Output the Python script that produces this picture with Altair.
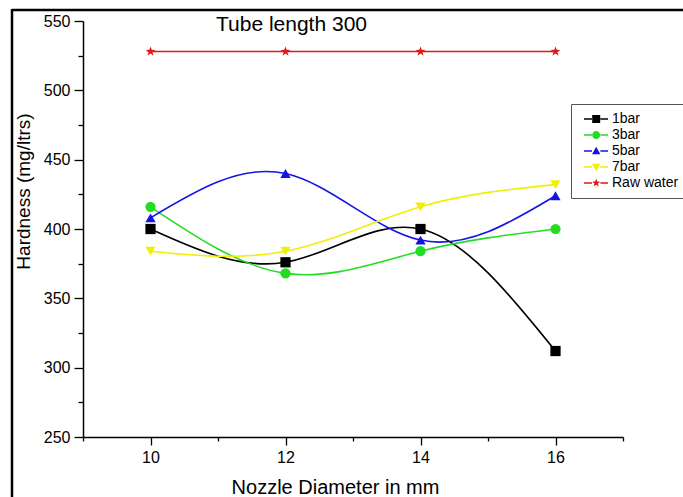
import altair as alt
import pandas as pd

# ---- data ----
nozzle = [10, 12, 14, 16]
series_names = ["1bar", "3bar", "5bar", "7bar", "Raw water"]
bar1 = [400, 376, 400, 312]
bar3 = [416, 368, 384, 400]
bar5 = [408, 440, 392, 424]
bar7 = [384, 384, 416, 432]
raw_water = [528, 528, 528, 528]

x_major = [10, 12, 14, 16]
x_minor = [9, 11, 13, 15, 17]
y_major = [250, 300, 350, 400, 450, 500, 550]
y_minor = [275, 325, 375, 425, 475, 525]

colors = ["#000000", "#22dd22", "#1414e6", "#f2ef00", "#e01818"]

rows = []
for name, vals in zip(series_names, [bar1, bar3, bar5, bar7, raw_water]):
    for xv, yv in zip(nozzle, vals):
        rows.append({"nozzle": xv, "hardness": yv, "series": name})
df = pd.DataFrame(rows)

FONT = "Liberation Sans"

star = ("M0,-1L0.2351,-0.3236L0.9511,-0.309L0.3804,0.1236L0.5878,0.809L0,0.4"
        "L-0.5878,0.809L-0.3804,0.1236L-0.9511,-0.309L-0.2351,-0.3236Z")
plot_shapes = ["square", "circle", "triangle-up", "triangle-down", star]

# legend glyphs: line segment - symbol - line segment
seg = "M-0.5,-0.19H1.5V0.19H-0.5Z M3.6,-0.19H5.5V0.19H3.6Z "
leg_star = ("M2.55,-1.1L2.81,-0.356L3.596,-0.34L2.968,0.136L3.197,0.89L2.55,0.44"
            "L1.903,0.89L2.132,0.136L1.504,-0.34L2.29,-0.356Z")
legend_shapes = [
    seg + "M1.55,-1H3.55V1H1.55Z",
    seg + "M3.55,0A1,1,0,1,1,1.55,0A1,1,0,1,1,3.55,0Z",
    seg + "M2.55,-1.05L3.6,0.8L1.5,0.8Z",
    seg + "M2.55,1.05L3.6,-0.8L1.5,-0.8Z",
    seg + leg_star,
]

xscale = alt.Scale(domain=[9, 17], nice=False, zero=False)
yscale = alt.Scale(domain=[250, 550], nice=False, zero=False)
cscale = alt.Scale(domain=series_names, range=colors)

x_major_axis = alt.Axis(
    values=x_major, orient="bottom", tickSize=8, tickWidth=1.3, tickColor="black",
    domainColor="black", domainWidth=1.5, labelFontSize=16, labelFont=FONT,
    labelColor="black", labelPadding=4, grid=False,
    title="Nozzle Diameter in mm", titleFont=FONT, titleFontSize=20,
    titleFontWeight="normal", titleColor="black", titleX=252, titleY=56,
    titleBaseline="alphabetic", titleAlign="center",
)
x_minor_axis = alt.Axis(
    values=x_minor, orient="bottom", tickSize=4, tickWidth=1.3, tickColor="black",
    domain=False, labels=False, grid=False, title=None,
)
y_major_axis = alt.Axis(
    values=y_major, orient="left", tickSize=9, tickWidth=1.3, tickColor="black",
    domainColor="black", domainWidth=1.5, labelFontSize=16, labelFont=FONT,
    labelColor="black", labelPadding=4, grid=False,
    title="Hardness (mg/ltrs)", titleFont=FONT, titleFontSize=19,
    titleFontWeight="normal", titleColor="black", titleX=-54, titleY=170,
    titleBaseline="alphabetic", titleAlign="center", titleAngle=270,
)
y_minor_axis = alt.Axis(
    values=y_minor, orient="left", tickSize=5, tickWidth=1.3, tickColor="black",
    domain=False, labels=False, grid=False, title=None,
)

base = alt.Chart(df)

lines = base.mark_line(interpolate="natural", strokeWidth=1.6).encode(
    x=alt.X("nozzle:Q", scale=xscale, axis=x_major_axis),
    y=alt.Y("hardness:Q", scale=yscale, axis=y_major_axis),
    color=alt.Color("series:N", scale=cscale, legend=None),
)

points = base.mark_point(filled=True, opacity=1, size=105).encode(
    x=alt.X("nozzle:Q", scale=xscale, axis=x_minor_axis),
    y=alt.Y("hardness:Q", scale=yscale, axis=y_minor_axis),
    color=alt.Color("series:N", scale=cscale, legend=None),
    shape=alt.Shape("series:N", scale=alt.Scale(domain=series_names, range=plot_shapes),
                    legend=None),
)

leg = dict(
    title=None, orient="none", legendX=488, legendY=83, symbolSize=64,
    labelFontSize=14, labelFont=FONT, labelColor="black", labelOffset=19,
    padding=8, rowPadding=2, strokeColor="#555555", fillColor="white",
    symbolStrokeWidth=0, symbolOpacity=1,
)
legend_layer = base.transform_filter("false").mark_point(filled=True, opacity=1).encode(
    x=alt.X("nozzle:Q", scale=xscale, axis=None),
    y=alt.Y("hardness:Q", scale=yscale, axis=None),
    color=alt.Color("series:N", scale=cscale, legend=alt.Legend(**leg)),
    shape=alt.Shape("series:N", scale=alt.Scale(domain=series_names, range=legend_shapes),
                    legend=alt.Legend(**leg)),
)

one = pd.DataFrame({"k": [0]})
frame_top = alt.Chart(one).mark_rule(color="black", strokeWidth=2.5).encode(
    x=alt.value(-71), x2=alt.value(610), y=alt.value(-11))
frame_left = alt.Chart(one).mark_rule(color="black", strokeWidth=2.5).encode(
    x=alt.value(-71), y=alt.value(-12), y2=alt.value(486))

chart = alt.layer(frame_top, frame_left, lines, points, legend_layer).resolve_scale(
    shape="independent", color="independent"
).resolve_axis(
    x="independent", y="independent"
).properties(
    width=540, height=416,
    padding={"left": 83, "top": 21, "right": 60, "bottom": 60},
    autosize=alt.AutoSizeParams(type="none"),
    title=alt.TitleParams(
        "Tube length 300", anchor="start", dx=133, dy=44, offset=0,
        baseline="alphabetic", fontSize=21, font=FONT, fontWeight="normal",
        color="black", frame="group",
    ),
    background="white",
).configure_view(stroke=None)

chart.save("out.html", embed_options={"renderer": "svg", "actions": False})
